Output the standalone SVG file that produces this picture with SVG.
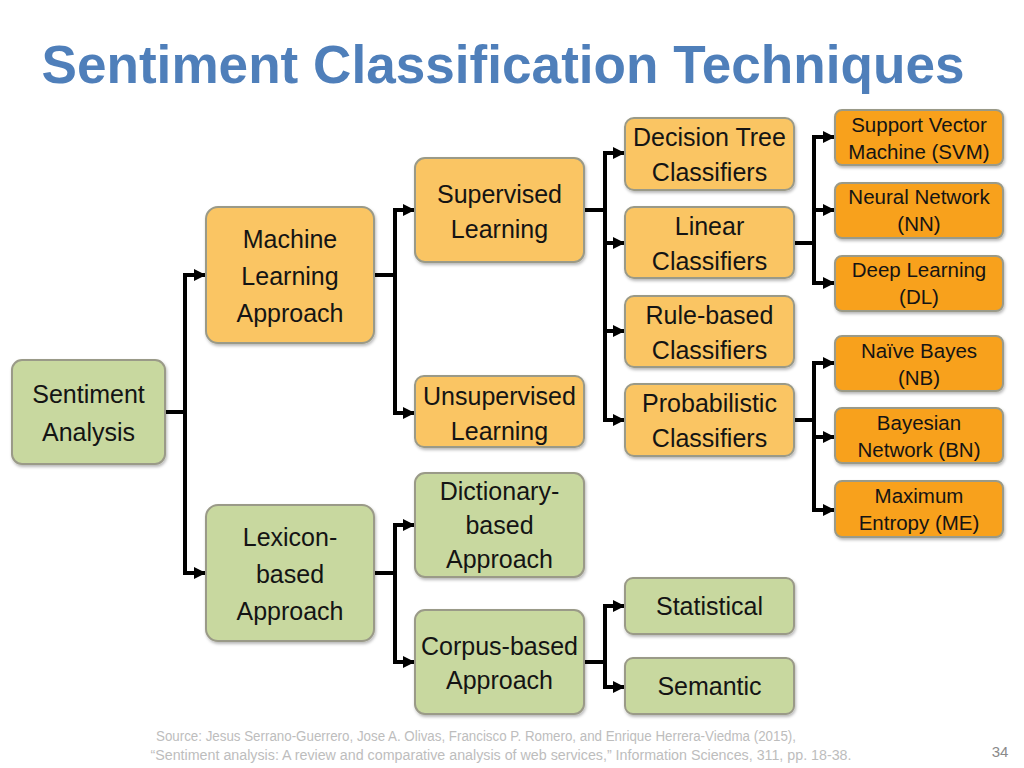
<svg xmlns="http://www.w3.org/2000/svg" width="1024" height="768" viewBox="0 0 1024 768">
<defs>
<style>
.box{stroke:#9a9a88;stroke-width:2;filter:url(#sh)}
.g{fill:#c8d89f}
.o{fill:#fac563}
.d{fill:#f8a11c}
.t{font-family:"Liberation Sans",Arial,sans-serif;font-size:25px;fill:#141414;text-anchor:middle}
.s{font-family:"Liberation Sans",Arial,sans-serif;font-size:20.5px;fill:#141414;text-anchor:middle}
.c{fill:none;stroke:#000;stroke-width:4}
.a{marker-end:url(#ah)}
.f{font-family:"Liberation Sans",Arial,sans-serif;font-size:14px;fill:#bdbdbd;text-anchor:middle}
</style>
<filter id="sh" x="-10%" y="-10%" width="125%" height="130%">
<feDropShadow dx="1" dy="2" stdDeviation="1.5" flood-color="#000" flood-opacity="0.28"/>
</filter>
<marker id="ah" viewBox="0 0 12 12" refX="12" refY="6" markerWidth="12" markerHeight="12" markerUnits="userSpaceOnUse" orient="auto">
<path d="M0,0 L12,6 L0,12 z" fill="#000"/>
</marker>
</defs>
<rect width="1024" height="768" fill="#fff"/>
<text x="503" y="83" font-family="Liberation Sans,Arial,sans-serif" font-weight="bold" font-size="53" fill="#4f7fba" text-anchor="middle" textLength="923" lengthAdjust="spacingAndGlyphs">Sentiment Classification Techniques</text>

<g id="connectors">
<path class="c" d="M165,412 H185 M185,273 V575"/>
<path class="c a" d="M183,275 H206"/>
<path class="c a" d="M183,573 H206"/>
<path class="c" d="M374,275 H395 M395,208 V415"/>
<path class="c a" d="M393,210 H415"/>
<path class="c a" d="M393,413 H415"/>
<path class="c" d="M584,210 H605 M605,151 V422"/>
<path class="c a" d="M603,153 H625"/>
<path class="c a" d="M603,243 H625"/>
<path class="c a" d="M603,331 H625"/>
<path class="c a" d="M603,420 H625"/>
<path class="c" d="M794,243 H814 M814,135 V285"/>
<path class="c a" d="M812,137 H835"/>
<path class="c a" d="M812,210 H835"/>
<path class="c a" d="M812,283 H835"/>
<path class="c" d="M794,420 H814 M814,361 V512"/>
<path class="c a" d="M812,363 H835"/>
<path class="c a" d="M812,437 H835"/>
<path class="c a" d="M812,510 H835"/>
<path class="c" d="M374,573 H395 M395,523 V664"/>
<path class="c a" d="M393,525 H415"/>
<path class="c a" d="M393,662 H415"/>
<path class="c" d="M584,662 H605 M605,604 V689"/>
<path class="c a" d="M603,606 H625"/>
<path class="c a" d="M603,687 H625"/>
</g>

<g id="sentiment-analysis"><rect class="box g" x="12" y="360" width="153" height="104" rx="10"/><text class="t" x="88.5" y="403">Sentiment</text><text class="t" x="88.5" y="441">Analysis</text></g>
<g id="machine-learning"><rect class="box o" x="206" y="207" width="168" height="136" rx="12"/><text class="t" x="290" y="248">Machine</text><text class="t" x="290" y="285">Learning</text><text class="t" x="290" y="322">Approach</text></g>
<g id="lexicon-based"><rect class="box g" x="206" y="505" width="168" height="136" rx="12"/><text class="t" x="290" y="546">Lexicon-</text><text class="t" x="290" y="583">based</text><text class="t" x="290" y="620">Approach</text></g>
<g id="supervised"><rect class="box o" x="415" y="158" width="169" height="104" rx="10"/><text class="t" x="499.5" y="203">Supervised</text><text class="t" x="499.5" y="238">Learning</text></g>
<g id="unsupervised"><rect class="box o" x="415" y="376" width="169" height="71" rx="9"/><text class="t" x="499.5" y="405">Unsupervised</text><text class="t" x="499.5" y="440">Learning</text></g>
<g id="dictionary-based"><rect class="box g" x="415" y="473" width="169" height="104" rx="10"/><text class="t" x="499.5" y="500">Dictionary-</text><text class="t" x="499.5" y="534">based</text><text class="t" x="499.5" y="568">Approach</text></g>
<g id="corpus-based"><rect class="box g" x="415" y="610" width="169" height="104" rx="10"/><text class="t" x="499.5" y="655">Corpus-based</text><text class="t" x="499.5" y="689">Approach</text></g>
<g id="decision-tree"><rect class="box o" x="625" y="118" width="169" height="72" rx="9"/><text class="t" x="709.5" y="146">Decision Tree</text><text class="t" x="709.5" y="181">Classifiers</text></g>
<g id="linear"><rect class="box o" x="625" y="207" width="169" height="71" rx="9"/><text class="t" x="709.5" y="235">Linear</text><text class="t" x="709.5" y="270">Classifiers</text></g>
<g id="rule-based"><rect class="box o" x="625" y="296" width="169" height="71" rx="9"/><text class="t" x="709.5" y="324">Rule-based</text><text class="t" x="709.5" y="359">Classifiers</text></g>
<g id="probabilistic"><rect class="box o" x="625" y="384" width="169" height="72" rx="9"/><text class="t" x="709.5" y="412">Probabilistic</text><text class="t" x="709.5" y="447">Classifiers</text></g>
<g id="statistical"><rect class="box g" x="625" y="578" width="169" height="56" rx="8"/><text class="t" x="709.5" y="615">Statistical</text></g>
<g id="semantic"><rect class="box g" x="625" y="658" width="169" height="56" rx="8"/><text class="t" x="709.5" y="695">Semantic</text></g>
<g id="svm"><rect class="box d" x="835" y="110" width="168" height="55" rx="7"/><text class="s" x="919" y="132">Support Vector</text><text class="s" x="919" y="159">Machine (SVM)</text></g>
<g id="nn"><rect class="box d" x="835" y="183" width="168" height="55" rx="7"/><text class="s" x="919" y="204">Neural Network</text><text class="s" x="919" y="231">(NN)</text></g>
<g id="dl"><rect class="box d" x="835" y="256" width="168" height="55" rx="7"/><text class="s" x="919" y="277">Deep Learning</text><text class="s" x="919" y="304">(DL)</text></g>
<g id="nb"><rect class="box d" x="835" y="336" width="168" height="55" rx="7"/><text class="s" x="919" y="358">Naïve Bayes</text><text class="s" x="919" y="385">(NB)</text></g>
<g id="bn"><rect class="box d" x="835" y="408" width="168" height="55" rx="7"/><text class="s" x="919" y="430">Bayesian</text><text class="s" x="919" y="457">Network (BN)</text></g>
<g id="me"><rect class="box d" x="835" y="481" width="168" height="56" rx="7"/><text class="s" x="919" y="503">Maximum</text><text class="s" x="919" y="530">Entropy (ME)</text></g>

<text class="f" x="476" y="741" textLength="640" lengthAdjust="spacingAndGlyphs">Source: Jesus Serrano-Guerrero, Jose A. Olivas, Francisco P. Romero, and Enrique Herrera-Viedma  (2015),</text>
<text class="f" x="501" y="760" textLength="701" lengthAdjust="spacingAndGlyphs">“Sentiment analysis: A review and comparative analysis of web services,” Information Sciences, 311, pp. 18-38.</text>
<text x="1000" y="757" font-family="Liberation Sans,Arial,sans-serif" font-size="15" fill="#8a8a8a" text-anchor="middle">34</text>
</svg>
